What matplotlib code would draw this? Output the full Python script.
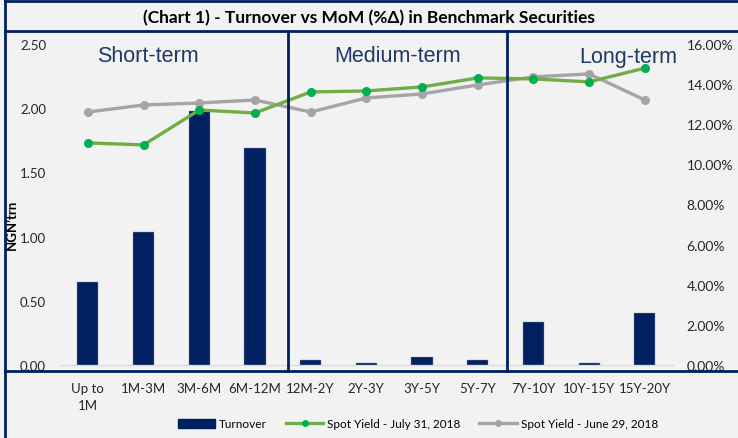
import numpy as np
import matplotlib
matplotlib.use('Agg')
from matplotlib import pyplot as plt
from matplotlib.lines import Line2D
from matplotlib.patches import Patch
from matplotlib.ticker import FuncFormatter
import matplotlib.transforms as mtransforms

plt.rcParams['font.family'] = ['Lato', 'DejaVu Sans']

# data
tenors = ['Up to\n1M', '1M-3M', '3M-6M', '6M-12M', '12M-2Y', '2Y-3Y', '3Y-5Y',
          '5Y-7Y', '7Y-10Y', '10Y-15Y', '15Y-20Y']
turnover = [0.645, 1.035, 1.98, 1.69, 0.04, 0.015, 0.06, 0.04, 0.335, 0.015, 0.405]
yield_jul = [11.07, 10.97, 12.71, 12.56, 13.61, 13.66, 13.86, 14.31, 14.26, 14.11, 14.80]
yield_jun = [12.61, 12.96, 13.06, 13.21, 12.61, 13.31, 13.51, 13.96, 14.36, 14.51, 13.21]
segments = ['Short-term', 'Medium-term', 'Long-term']

navy = '#002060'
bg = '#f2f2f2'

fig = plt.figure(figsize=(7.38, 4.39), dpi=100, facecolor=bg)
ax = fig.add_axes([0.0813, 0.1663, 0.8302, 0.7312])
ax.set_facecolor(bg)
x = np.arange(len(tenors))
ax.bar(x, turnover, width=0.38, color=navy, edgecolor='#8497b0', linewidth=0.3, zorder=2)
ax.set_xlim(-0.5, len(tenors) - 0.5)
ax.set_ylim(0, 2.5)
ax.set_yticks(np.arange(0, 2.51, 0.5))
ax.yaxis.set_major_formatter(FuncFormatter(lambda v, p: f'{v:.2f}'))
ax.set_xticks(x)
ax.set_xticklabels(tenors, fontsize=9.5, color='#262626', linespacing=1.5)
ax.tick_params(axis='both', length=0)
ax.tick_params(axis='y', labelsize=9.5, labelcolor='#262626', pad=10)
ax.tick_params(axis='x', pad=12)
for s in ['top', 'left', 'right']:
    ax.spines[s].set_visible(False)
ax.spines['bottom'].set_color('#d9d9d9')
ax.set_ylabel("NGN'trn", fontsize=9.5, fontweight='bold')
ax.yaxis.set_label_coords(-0.068, 0.44)

ax2 = ax.twinx()
ax2.plot(x, np.array(yield_jun) / 100, color='#a5a5a5', lw=2.4, marker='o', ms=5.5,
         mfc='#a5a5a5', mec='#a5a5a5', zorder=3)
ax2.plot(x, np.array(yield_jul) / 100, color='#70ad47', lw=2.4, marker='o', ms=5.5,
         mfc='#00b050', mec='#00b050', zorder=4)
ax2.set_ylim(0, 0.16)
ax2.set_yticks(np.arange(0, 0.161, 0.02))
ax2.yaxis.set_major_formatter(FuncFormatter(lambda v, p: f'{v * 100:.2f}%'))
ax2.tick_params(axis='y', length=0, labelsize=10, labelcolor='#262626', pad=10)
for s in ['top', 'left', 'right', 'bottom']:
    ax2.spines[s].set_visible(False)

# frame and segment dividers
trans = mtransforms.blended_transform_factory(ax.transData, fig.transFigure)
for xd in [3.6, 7.52]:
    fig.add_artist(Line2D([xd, xd], [1 - 32 / 439, 1 - 372 / 439], transform=trans,
                          color=navy, lw=2))
for yy in [2, 32, 372]:
    fig.add_artist(Line2D([5 / 738, 1], [1 - yy / 439] * 2, transform=fig.transFigure,
                          color=navy, lw=2))
fig.add_artist(Line2D([5 / 738] * 2, [1 - 2 / 439, 0], transform=fig.transFigure,
                      color=navy, lw=2))

fig.text(0.5, 1 - 18 / 439, '(Chart 1) - Turnover vs MoM (%Δ) in Benchmark Securities',
         ha='center', va='center', fontsize=12.5, fontweight='bold')

for seg, xs in zip(segments, [148, 398, 628]):
    fig.text(xs / 738, 1 - 57 / 439, seg, ha='center', va='center', fontsize=15.5,
             color='#1f3864', family='Liberation Sans')

handles = [Patch(color=navy),
           Line2D([], [], color='#70ad47', lw=2.4, marker='o', ms=4, mfc='#00b050', mec='#00b050'),
           Line2D([], [], color='#a5a5a5', lw=2.4, marker='o', ms=4, mfc='#a5a5a5', mec='#a5a5a5')]
fig.legend(handles, ['Turnover', 'Spot Yield - July 31, 2018', 'Spot Yield - June 29, 2018'],
           loc='center', bbox_to_anchor=(0.566, 1 - 425 / 439), ncol=3, frameon=False,
           fontsize=8.5, handlelength=3.2, handleheight=0.9, columnspacing=1.6,
           handletextpad=0.3)

fig.savefig('out.png', dpi=100, facecolor=bg)
